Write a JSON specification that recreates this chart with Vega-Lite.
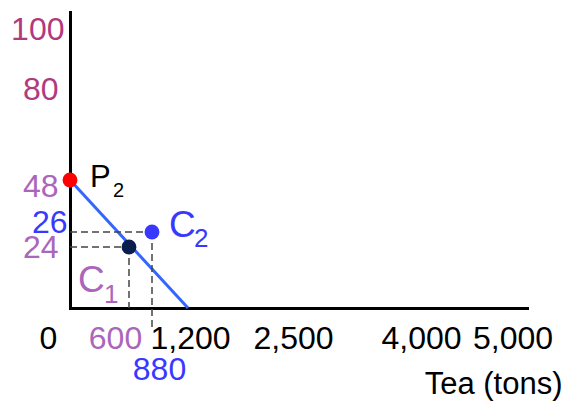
{
  "$schema": "https://vega.github.io/schema/vega-lite/v6.json",
  "width": 457,
  "height": 296,
  "autosize": {"type": "none"},
  "padding": {"left": 70, "top": 12, "right": 41, "bottom": 109},
  "background": "white",
  "config": {"view": {"stroke": null}, "font": "Liberation Sans"},
  "datasets": {
    "line": [
      {"tea": 0, "y": 48},
      {"tea": 1200, "y": 0}
    ],
    "guides": [
      {"tea": 0, "y": 26, "tea2": 880, "y2": 26},
      {"tea": 0, "y": 24, "tea2": 600, "y2": 24},
      {"tea": 600, "y": 24, "tea2": 600, "y2": 0},
      {"tea": 880, "y": 26, "tea2": 880, "y2": -9}
    ],
    "points": [
      {"name": "P2", "tea": 0, "y": 48, "letter": "P", "sub": "2"},
      {"name": "C2", "tea": 880, "y": 26, "letter": "C", "sub": "2"},
      {"name": "C1", "tea": 600, "y": 24, "letter": "C", "sub": "1"}
    ]
  },
  "encoding": {
    "x": {
      "field": "tea",
      "type": "quantitative",
      "scale": {"domain": [0, 600, 880, 1200, 5170], "range": [0, 59, 82, 118, 457], "nice": false, "zero": false},
      "axis": {
        "values": [0, 600, 880, 1200, 2500, 4000, 5000],
        "format": ",.0f",
        "title": "Tea (tons)",
        "titleFont": "Liberation Sans",
        "titleFontSize": 31,
        "titleFontWeight": "normal",
        "titleColor": "black",
        "titleAlign": "right",
        "titleBaseline": "alphabetic",
        "titleX": 492,
        "titleY": 85,
        "ticks": false,
        "grid": false,
        "domainColor": "black",
        "domainWidth": 3,
        "domainCap": "square",
        "labelFont": "Liberation Sans",
        "labelFontSize": 32,
        "labelBaseline": "top",
        "labelFlush": false,
        "labelOverlap": false,
        "labelColor": {
          "condition": [
            {"test": "datum.value == 600", "value": "#aa66bb"},
            {"test": "datum.value == 880", "value": "#3838ff"}
          ],
          "value": "black"
        },
        "labelOffset": {
          "condition": [
            {"test": "datum.value == 0", "value": -22},
            {"test": "datum.value == 600", "value": -14},
            {"test": "datum.value == 880", "value": 7},
            {"test": "datum.value == 1200", "value": 2},
            {"test": "datum.value == 2500", "value": -6},
            {"test": "datum.value == 4000", "value": -6}
          ],
          "value": 0
        },
        "labelPadding": {
          "condition": [
            {"test": "datum.value == 880", "value": 46}
          ],
          "value": 15
        }
      }
    },
    "y": {
      "field": "y",
      "type": "quantitative",
      "scale": {"domain": [0, 24, 26, 48, 105], "range": [296, 235, 220, 168, 0], "nice": false, "zero": false},
      "axis": {
        "values": [24, 26, 48, 80, 100],
        "format": "d",
        "title": null,
        "ticks": false,
        "grid": false,
        "domainColor": "black",
        "domainWidth": 3,
        "domainCap": "square",
        "labelFont": "Liberation Sans",
        "labelFontSize": 32,
        "labelAlign": "right",
        "labelBaseline": "middle",
        "labelFlush": false,
        "labelOverlap": false,
        "labelColor": {
          "condition": [
            {"test": "datum.value == 100 || datum.value == 80", "value": "#b03a80"},
            {"test": "datum.value == 26", "value": "#3838ff"}
          ],
          "value": "#aa66bb"
        },
        "labelOffset": {
          "condition": [
            {"test": "datum.value == 100", "value": 3},
            {"test": "datum.value == 80", "value": 4},
            {"test": "datum.value == 48", "value": 6},
            {"test": "datum.value == 26", "value": -10},
            {"test": "datum.value == 24", "value": 0}
          ],
          "value": 0
        },
        "labelPadding": {
          "condition": [
            {"test": "datum.value == 26", "value": 3},
            {"test": "datum.value == 100", "value": 6}
          ],
          "value": 12
        }
      }
    }
  },
  "layer": [
    {
      "data": {"name": "line"},
      "mark": {"type": "line", "color": "#3366ff", "strokeWidth": 3},
      "encoding": {}
    },
    {
      "data": {"name": "guides"},
      "mark": {"type": "rule", "strokeDash": [7, 4], "color": "#444444", "strokeWidth": 1.5},
      "encoding": {
        "x2": {"field": "tea2"},
        "y2": {"field": "y2"}
      }
    },
    {
      "data": {"name": "points"},
      "mark": {"type": "circle", "size": 220, "opacity": 1},
      "encoding": {
        "color": {
          "field": "name",
          "type": "nominal",
          "scale": {"domain": ["P2", "C2", "C1"], "range": ["#ff0000", "#3838ff", "#0b1f4e"]},
          "legend": null
        }
      }
    },
    {
      "data": {"name": "points"},
      "transform": [{"filter": "datum.name === 'P2'"}],
      "mark": {"type": "text", "align": "left", "baseline": "alphabetic", "dx": 20, "dy": 7, "fontSize": 31, "color": "black", "font": "Liberation Sans"},
      "encoding": {"text": {"field": "letter"}}
    },
    {
      "data": {"name": "points"},
      "transform": [{"filter": "datum.name === 'P2'"}],
      "mark": {"type": "text", "align": "left", "baseline": "alphabetic", "dx": 43, "dy": 17, "fontSize": 20, "color": "black", "font": "Liberation Sans"},
      "encoding": {"text": {"field": "sub"}}
    },
    {
      "data": {"name": "points"},
      "transform": [{"filter": "datum.name === 'C2'"}],
      "mark": {"type": "text", "align": "left", "baseline": "alphabetic", "dx": 17, "dy": 5, "fontSize": 37, "color": "#3838ff", "font": "Liberation Sans"},
      "encoding": {"text": {"field": "letter"}}
    },
    {
      "data": {"name": "points"},
      "transform": [{"filter": "datum.name === 'C2'"}],
      "mark": {"type": "text", "align": "left", "baseline": "alphabetic", "dx": 42, "dy": 15, "fontSize": 26, "color": "#3838ff", "font": "Liberation Sans"},
      "encoding": {"text": {"field": "sub"}}
    },
    {
      "data": {"name": "points"},
      "transform": [{"filter": "datum.name === 'C1'"}],
      "mark": {"type": "text", "align": "left", "baseline": "alphabetic", "dx": -51, "dy": 45, "fontSize": 37, "color": "#aa66bb", "font": "Liberation Sans"},
      "encoding": {"text": {"field": "letter"}}
    },
    {
      "data": {"name": "points"},
      "transform": [{"filter": "datum.name === 'C1'"}],
      "mark": {"type": "text", "align": "left", "baseline": "alphabetic", "dx": -25, "dy": 56, "fontSize": 26, "color": "#aa66bb", "font": "Liberation Sans"},
      "encoding": {"text": {"field": "sub"}}
    }
  ]
}
